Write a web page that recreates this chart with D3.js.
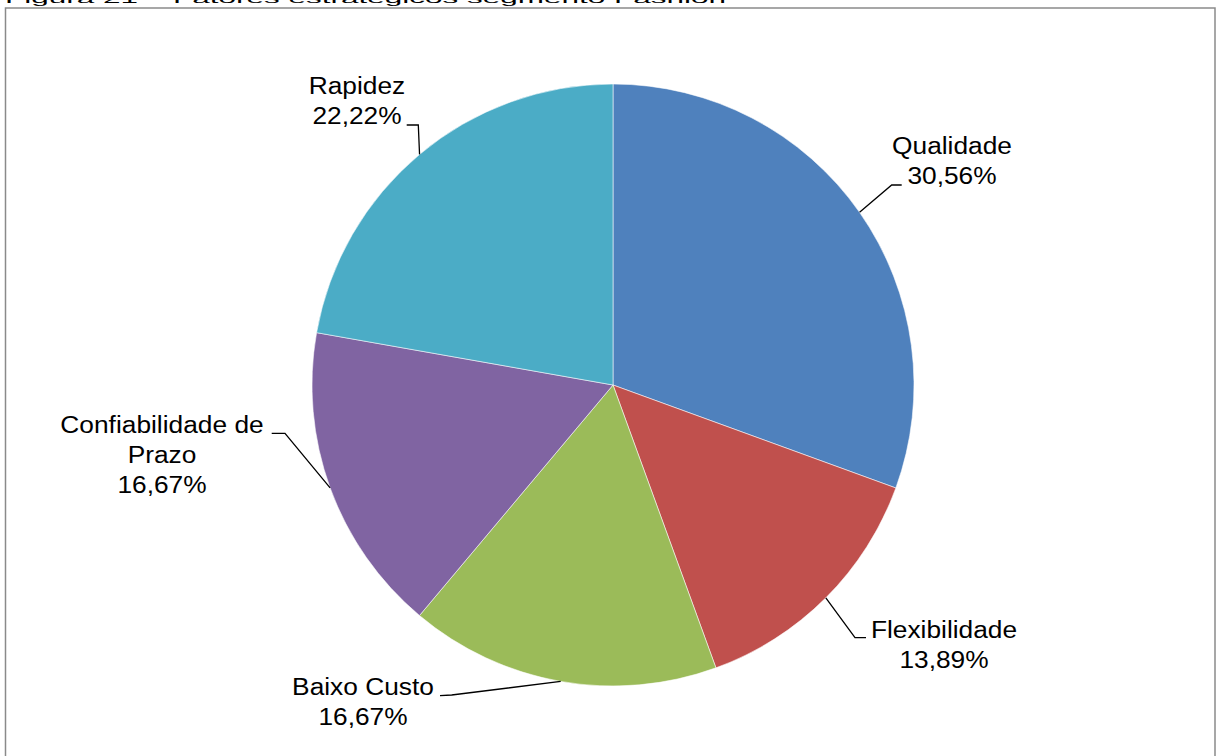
<!DOCTYPE html>
<html>
<head>
<meta charset="utf-8">
<script src="https://cdn.jsdelivr.net/npm/d3@7"></script>
<style>
  html, body { margin: 0; padding: 0; background: #fff; overflow: hidden; }
  svg { display: block; }
  text { font-family: "Liberation Sans", Arial, sans-serif; fill: #000; }
</style>
</head>
<body>
<svg id="chart" width="1216" height="756"></svg>
<script>
// Fatores estratégicos – segmento Fashion (participação %)
const categories = ["Qualidade", "Flexibilidade", "Baixo Custo", "Confiabilidade de Prazo", "Rapidez"];
const shares = [30.56, 13.89, 16.67, 16.67, 22.22];
const sliceColors = ["#4F81BD", "#C0504D", "#9BBB59", "#8064A2", "#4BACC6"];
const titleText = "Figura 21 – Fatores estratégicos segmento Fashion";

// Label layout: line breaks plus elbow / end of leader and text anchor, relative to the pie centre
const labelLines = [["Qualidade"], ["Flexibilidade"], ["Baixo Custo"], ["Confiabilidade de", "Prazo"], ["Rapidez"]];
const labelLayout = [
  { elbow: [278.7, -200], end: [288.7, -200], text: [339, -230.7] },
  { elbow: [242, 252.7], end: [253, 252.7], text: [331, 253.3] },
  { elbow: [-161.3, 310], end: [-173, 310.7], text: [-250, 310] },
  { elbow: [-328, 48.3], end: [-341.3, 48.3], text: [-451, 48.3] },
  { elbow: [-194.7, -260], end: [-206.3, -260], text: [-256, -290.7] }
];

const W = 1216, H = 756;
const cx = 613, cy = 385, R = 301;
const lineGap = 30;
const stretch = 1.12;

const svg = d3.select("#chart");

// Frame and caption (the caption sits above the frame, partly off the top edge)
svg.append("rect")
  .attr("x", 5.5).attr("y", 8)
  .attr("width", 1209.5).attr("height", 800)
  .attr("fill", "none")
  .attr("stroke", "#8a8a8a")
  .attr("stroke-width", 1.5);

svg.append("text")
  .attr("transform", "translate(5,3.3) scale(1.05,0.45)")
  .attr("font-size", 30)
  .text(titleText);

const locale = d3.formatLocale({ decimal: ",", thousands: ".", grouping: [3], currency: ["R$", ""] });
const fmt = locale.format(".2f");

const pie = d3.pie().sort(null).value(d => d);
const arcs = pie(shares);
const arc = d3.arc().innerRadius(0).outerRadius(R);

const g = svg.append("g").attr("transform", `translate(${cx},${cy})`);

g.selectAll("path.slice")
  .data(arcs)
  .join("path")
  .attr("class", "slice")
  .attr("d", arc)
  .attr("fill", (d, i) => sliceColors[i])
  .attr("stroke", "rgba(255,255,255,0.55)")
  .attr("stroke-width", 1);

// Leader lines from the slice edge at its mid angle
g.selectAll("path.leader")
  .data(arcs)
  .join("path")
  .attr("class", "leader")
  .attr("fill", "none")
  .attr("stroke", "#000")
  .attr("stroke-width", 1.3)
  .attr("d", (d, i) => {
    const a = (d.startAngle + d.endAngle) / 2;
    const p0 = [R * Math.sin(a), -R * Math.cos(a)];
    const L = labelLayout[i];
    return d3.line()([p0, L.elbow, L.end]);
  });

// Category + percentage labels
const labels = g.selectAll("g.label")
  .data(arcs)
  .join("g")
  .attr("class", "label")
  .attr("transform", (d, i) => `translate(${labelLayout[i].text[0]},${labelLayout[i].text[1]})`);

labels.each(function (d, i) {
  const lines = labelLines[i].concat([fmt(d.data) + "%"]);
  d3.select(this).selectAll("text")
    .data(lines)
    .join("text")
    .attr("transform", (t, k) => `translate(0,${k * lineGap}) scale(${stretch},1)`)
    .attr("text-anchor", "middle")
    .attr("font-size", 23.5)
    .text(t => t);
});
</script>
</body>
</html>
